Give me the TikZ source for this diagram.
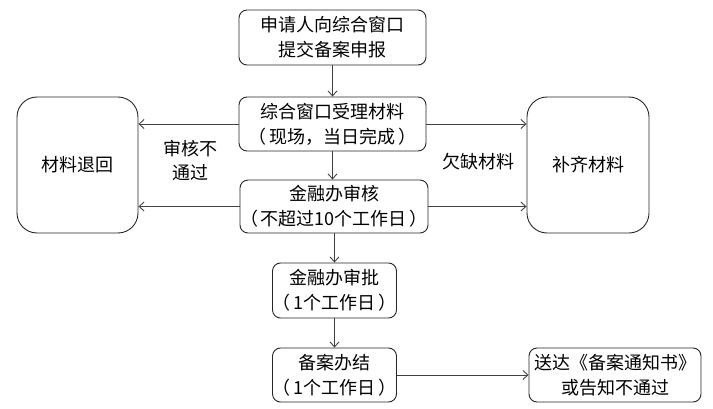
\documentclass[tikz,border=0pt]{standalone}
\usepackage{fontspec}
\setmainfont{Noto Sans CJK SC}
\usetikzlibrary{arrows.meta}
\begin{document}
\begin{tikzpicture}[x=1pt,y=-1pt,
  box/.style={draw=black!85,line width=0.9pt,rounded corners=8pt,fill=white,align=center,
    font=\fontsize{18}{25}\selectfont,inner sep=0pt},
  bigbox/.style={box,rounded corners=20pt},
  lbl/.style={align=center,font=\fontsize{18}{24}\selectfont,inner sep=0pt},
  arr/.style={draw=black!75,line width=0.9pt,-{Straight Barb[length=5pt,width=9pt]}}]
\useasboundingbox (0,0) rectangle (713,409);
\node[box,minimum width=187pt,minimum height=55pt] (b1) at (332.5,37.5) {申请人向综合窗口\\提交备案申报};
\node[box,minimum width=187pt,minimum height=54pt] (b2) at (332.5,124) {综合窗口受理材料\\（\,现场，当日完成\,）};
\node[box,minimum width=188pt,minimum height=53pt] (b3) at (334,206.5) {金融办审核\\（\,不超过10个工作日\,）};
\node[box,minimum width=123pt,minimum height=55pt] (b4) at (334.5,290.5) {金融办审批\\（\,1个工作日\,）};
\node[box,minimum width=123pt,minimum height=54pt] (b5) at (334.5,375) {备案办结\\（\,1个工作日\,）};
\node[box,minimum width=172pt,minimum height=54pt] (b6) at (615,375) {送达《备案通知书》\\或告知不通过};
\node[bigbox,minimum width=121pt,minimum height=136pt] (lt) at (77.5,165) {材料退回};
\node[bigbox,minimum width=122pt,minimum height=136pt] (rt) at (588,165) {补齐材料};
\node[lbl] (l1) at (190,161) {审核不\\通过};
\node[lbl] (l2) at (478,162) {欠缺材料};
\draw[arr] (b1.south) -- (b1.south |- b2.north);
\draw[arr] (b2.south) -- (b2.south |- b3.north);
\draw[arr] (b3.south -| b4.north) -- (b4.north);
\draw[arr] (b4.south) -- (b5.north);
\draw[arr] (b2.west) -- (lt.east |- b2.west);
\draw[arr] (b3.west) -- (lt.east |- b3.west);
\draw[arr] (b2.east) -- (rt.west |- b2.east);
\draw[arr] (b3.east) -- (rt.west |- b3.east);
\draw[arr] (b5.east) -- (b6.west);
\end{tikzpicture}
\end{document}
